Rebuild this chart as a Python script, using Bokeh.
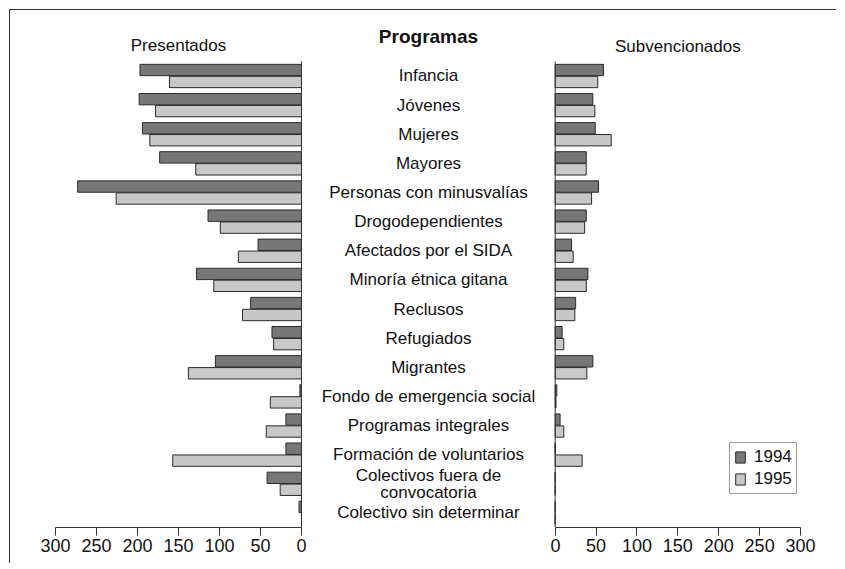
from bokeh.plotting import figure
from bokeh.layouts import row
from bokeh.models import Range1d, ColumnDataSource, FixedTicker, Legend, LegendItem
from bokeh.core.properties import value
from bokeh.transform import dodge
from bokeh.embed import file_html
from bokeh.resources import INLINE

# ---------------- data ----------------
categories = [
    "Infancia", "Jóvenes", "Mujeres", "Mayores", "Personas con minusvalías",
    "Drogodependientes", "Afectados por el SIDA", "Minoría étnica gitana",
    "Reclusos", "Refugiados", "Migrantes", "Fondo de emergencia social",
    "Programas integrales", "Formación de voluntarios",
    "Colectivos fuera de\nconvocatoria", "Colectivo sin determinar",
]
presentados_1994 = [197, 198, 194, 173, 273, 114, 53, 128, 62, 36, 105, 2, 19, 19, 42, 3]
presentados_1995 = [161, 178, 185, 129, 226, 99, 77, 107, 72, 34, 138, 38, 43, 157, 26, 0]
subvencionados_1994 = [59, 46, 49, 38, 53, 38, 20, 40, 25, 8.5, 46, 2, 6, 0, 0, 0]
subvencionados_1995 = [52, 48.5, 68.5, 38, 44.5, 36, 22, 38, 24, 10.5, 38.7, 1, 10.5, 33, 0, 0]
years = ["1994", "1995"]
tick_values = [0, 50, 100, 150, 200, 250, 300]
panel_titles = ["Presentados", "Programas", "Subvencionados"]

FONT = "Liberation Sans"
C94 = "#777777"
C95 = "#c8c8c8"
EDGE = "#2a2a2a"

idx = list(range(len(categories)))
src = ColumnDataSource(dict(
    idx=idx, cat=categories,
    p94=presentados_1994, p95=presentados_1995,
    s94=subvencionados_1994, s95=subvencionados_1995,
    zero=[0] * len(categories),
))

H = 553
y_range = Range1d(start=15.50, end=-1.905)
BAR_H = 0.39
OFF = 0.205
TOP = 10


def style_common(p):
    p.outline_line_color = None
    p.xgrid.visible = False
    p.ygrid.visible = False
    p.background_fill_color = "white"
    p.border_fill_color = "white"


def style_axis(ax):
    ax.ticker = FixedTicker(ticks=tick_values)
    ax.bounds = (0, 300)
    ax.axis_line_color = "#333333"
    ax.axis_line_width = 1
    ax.major_tick_line_color = "#333333"
    ax.major_tick_out = 8
    ax.major_tick_in = 0
    ax.minor_tick_line_color = None
    ax.major_label_standoff = 3
    ax.major_label_text_font = FONT
    ax.major_label_text_font_size = "18px"
    ax.major_label_text_color = "#111111"


# ---------------- left panel ----------------
pl = figure(width=296, height=H, output_backend="svg", toolbar_location=None,
            x_range=Range1d(start=342.7, end=-6.1), y_range=y_range,
            min_border_left=10, min_border_right=0, min_border_top=TOP, min_border_bottom=36)
style_common(pl)
pl.yaxis.visible = False
style_axis(pl.xaxis[0])
pl.hbar(y=dodge("idx", -OFF), left="zero", right="p94", height=BAR_H, source=src,
        fill_color=C94, line_color=EDGE, line_width=1)
pl.hbar(y=dodge("idx", OFF), left="zero", right="p95", height=BAR_H, source=src,
        fill_color=C95, line_color=EDGE, line_width=1)
pl.segment(x0=0, x1=0, y0=-0.5, y1=len(categories) - 0.5, line_color="#333333", line_width=1)
pl.text(x=[150], y=[-1.05], text=[panel_titles[0]], text_font=value(FONT),
        text_font_size="17px", text_align="center", text_baseline="middle", text_color="#111111")

# ---------------- middle panel ----------------
pm = figure(width=244, height=H, output_backend="svg", toolbar_location=None,
            x_range=Range1d(0, 1), y_range=y_range,
            min_border_left=0, min_border_right=0, min_border_top=TOP, min_border_bottom=36)
style_common(pm)
pm.xaxis.visible = False
pm.yaxis.visible = False
src_mid = ColumnDataSource(dict(idx=idx, cat=categories, x=[0.5] * len(categories)))
pm.text(x="x", y="idx", text="cat", source=src_mid, text_font=value(FONT),
        text_font_size="17px", text_align="center", text_baseline="middle",
        text_color="#111111", text_line_height=0.92)
pm.text(x=[0.5], y=[-1.36], text=[panel_titles[1]], text_font=value(FONT),
        text_font_size="19px", text_font_style="bold", text_align="center",
        text_baseline="middle", text_color="#111111")

# ---------------- right panel ----------------
pr = figure(width=286, height=H, output_backend="svg", toolbar_location=None,
            x_range=Range1d(start=-5.75, end=344.0), y_range=y_range,
            min_border_left=0, min_border_right=0, min_border_top=TOP, min_border_bottom=36)
style_common(pr)
pr.yaxis.visible = False
style_axis(pr.xaxis[0])
r94 = pr.hbar(y=dodge("idx", -OFF), left="zero", right="s94", height=BAR_H, source=src,
              fill_color=C94, line_color=EDGE, line_width=1)
r95 = pr.hbar(y=dodge("idx", OFF), left="zero", right="s95", height=BAR_H, source=src,
              fill_color=C95, line_color=EDGE, line_width=1)
pr.segment(x0=0, x1=0, y0=-0.5, y1=len(categories) - 0.5, line_color="#333333", line_width=1)
pr.text(x=[150], y=[-1.02], text=[panel_titles[2]], text_font=value(FONT),
        text_font_size="17px", text_align="center", text_baseline="middle", text_color="#111111")

legend = Legend(items=[LegendItem(label=years[0], renderers=[r94]),
                       LegendItem(label=years[1], renderers=[r95])],
                location=(179, 33), orientation="vertical")
legend.label_text_font = FONT
legend.label_text_font_size = "17px"
legend.label_text_color = "#111111"
legend.glyph_width = 12
legend.glyph_height = 14
legend.label_standoff = 8
legend.padding = 4
legend.spacing = 2
legend.margin = 0
legend.border_line_color = "#333333"
legend.border_line_width = 1
legend.background_fill_alpha = 1
pr.add_layout(legend)

layout = row(pl, pm, pr, spacing=0)
layout.styles = {"margin-left": "9px", "margin-top": "9px",
                 "border-top": "1px solid #333", "border-left": "1px solid #333"}

open("out.html", "w").write(file_html(layout, INLINE))
